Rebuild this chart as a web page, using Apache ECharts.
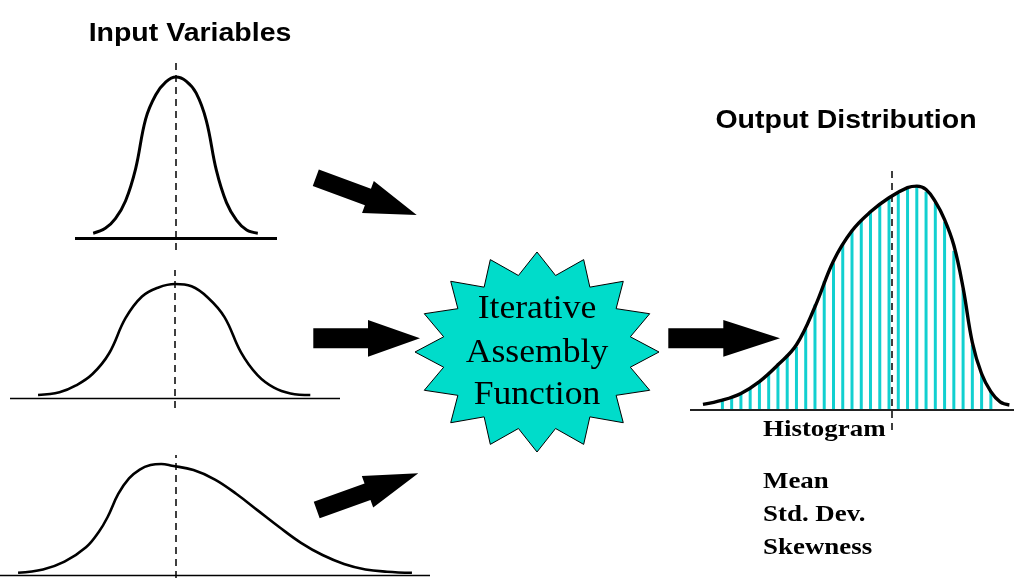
<!DOCTYPE html>
<html>
<head>
<meta charset="utf-8">
<script src="https://cdn.jsdelivr.net/npm/echarts/dist/echarts.min.js"></script>
<style>html,body{margin:0;padding:0;background:#fff}#c{width:1018px;height:578px}</style>
</head>
<body>
<div id="c"></div>
<script>
// ---- data ----
// Input variable 1 (narrow, symmetric)
const in1X = [-4.1, -3.5, -3.0, -2.5, -2.0, -1.5, -1.0, -0.5, 0, 0.5, 1.0, 1.5, 2.0, 2.5, 3.0, 3.5, 4.05];
const in1Y = [0.03, 0.06, 0.12, 0.23, 0.43, 0.74, 0.89, 0.97, 1.0, 0.975, 0.9, 0.73, 0.42, 0.22, 0.11, 0.05, 0.03];
const in1Mean = 0;
// Input variable 2 (wider, symmetric)
const in2X = [-4.15, -3.5, -3.0, -2.5, -2.0, -1.5, -1.0, -0.5, 0, 0.5, 1.0, 1.5, 2.0, 2.5, 3.0, 3.5, 4.1];
const in2Y = [0.026, 0.05, 0.11, 0.21, 0.39, 0.7, 0.89, 0.97, 1.0, 0.98, 0.88, 0.71, 0.4, 0.2, 0.09, 0.04, 0.026];
const in2Mean = 0;
// Input variable 3 (right skewed)
const in3X = [0.42, 1.0, 1.5, 2.0, 2.3, 2.5, 2.75, 3.0, 3.25, 3.5, 3.75, 4.0, 4.5, 5.0, 5.5, 6.0, 6.5, 7.0, 7.5, 8.0, 8.5, 9.0, 9.58];
const in3Y = [0.02, 0.05, 0.12, 0.25, 0.39, 0.52, 0.73, 0.87, 0.95, 0.99, 1.0, 0.985, 0.945, 0.86, 0.73, 0.58, 0.43, 0.29, 0.18, 0.1, 0.05, 0.03, 0.02];
const in3Mean = 4.09;
// Output distribution curve (left skewed)
const outX = [-2.1, 0, 2, 4, 6, 8, 10, 12, 14, 16, 18, 20, 21, 22, 23, 24, 25, 26, 27, 28, 29, 30, 31];
const outY = [0.023, 0.042, 0.072, 0.125, 0.2, 0.29, 0.46, 0.665, 0.8, 0.885, 0.948, 0.993, 1.0, 0.985, 0.93, 0.85, 0.735, 0.545, 0.3, 0.16, 0.08, 0.034, 0.02];
const outMean = 18.3;
// Histogram bins of the output
const histBins = [0,1,2,3,4,5,6,7,8,9,10,11,12,13,14,15,16,17,18,19,20,21,22,23,24,25,26,27,28,29];
const histVals = [0.04,0.055,0.075,0.096,0.125,0.16,0.205,0.245,0.28,0.36,0.47,0.575,0.655,0.74,0.80,0.85,0.885,0.915,0.945,0.965,0.995,1.0,0.975,0.925,0.84,0.71,0.54,0.29,0.165,0.08];
// Texts
const titleInput = 'Input Variables';
const titleOutput = 'Output Distribution';
const starLines = ['Iterative', 'Assembly', 'Function'];
const statLabels = ['Histogram', 'Mean', 'Std. Dev.', 'Skewness'];

// ---- helpers ----
const zip = (a, b) => a.map((v, i) => [v, b[i]]);
const SERIF = "'Liberation Serif','Times New Roman',serif";
const SANS = "'Liberation Sans',Arial,sans-serif";

function arrow(x1, y1, x2, y2, sw, hw, hl) {
  const dx = x2 - x1, dy = y2 - y1, L = Math.hypot(dx, dy);
  const ux = dx / L, uy = dy / L, px = -uy, py = ux;
  const bx = x2 - ux * hl, by = y2 - uy * hl;
  const p = (x, y, s) => [x + px * s, y + py * s];
  return {
    type: 'polygon', silent: true,
    shape: { points: [p(x1, y1, sw / 2), p(bx, by, sw / 2), p(bx, by, hw / 2), [x2, y2], p(bx, by, -hw / 2), p(bx, by, -sw / 2), p(x1, y1, -sw / 2)] },
    style: { fill: '#000' }
  };
}
function star(cx, cy, rx, ry, n, inner) {
  const pts = [];
  for (let k = 0; k < 2 * n; k++) {
    const a = -Math.PI / 2 + k * Math.PI / n;
    const r = k % 2 === 0 ? 1 : inner;
    pts.push([cx + rx * r * Math.cos(a), cy + ry * r * Math.sin(a)]);
  }
  return { type: 'polygon', silent: true, shape: { points: pts }, style: { fill: '#00DCCA', stroke: '#000', lineWidth: 1 } };
}
function txt(x, y, s, font, size, weight, align, sx) {
  return {
    type: 'text', silent: true, x: x, y: y, scaleX: sx, originX: 0, originY: 0,
    style: { x: 0, y: 0, text: s, fill: '#000', font: weight + ' ' + size + 'px ' + font, textAlign: align, textVerticalAlign: 'middle' }
  };
}

function axesFor(i, xmin, xmax, ymin, ymax) {
  const hidden = { show: false };
  return {
    x: { gridIndex: i, type: 'value', min: xmin, max: xmax, axisLine: hidden, axisTick: hidden, axisLabel: hidden, splitLine: hidden },
    y: { gridIndex: i, type: 'value', min: ymin, max: ymax, axisLine: hidden, axisTick: hidden, axisLabel: hidden, splitLine: hidden }
  };
}
const ax = [
  axesFor(0, -5, 5, -0.0745, 1.106),
  axesFor(1, -5, 5, -0.088, 1.123),
  axesFor(2, 0, 10, -0.027, 1.081),
  axesFor(3, -3.5, 31.5, -0.0917, 1.072)
];

function marks(mean, baseW, baseColor) {
  return {
    silent: true, symbol: ['none', 'none'], label: { show: false }, animation: false,
    emphasis: { disabled: true },
    data: [
      { yAxis: 0, lineStyle: { type: 'solid', color: baseColor, width: baseW } },
      { xAxis: mean, lineStyle: { type: [7, 5], color: '#000', width: 1.5 } }
    ]
  };
}
function curve(i, data, w, mean, baseW, baseColor) {
  return {
    type: 'line', xAxisIndex: i, yAxisIndex: i, data: data, showSymbol: false, symbol: 'none',
    smooth: 0.4, z: 5,
    lineStyle: { color: '#000', width: w }, emphasis: { disabled: true },
    markLine: marks(mean, baseW, baseColor)
  };
}

const chart = echarts.init(document.getElementById('c'), null, { renderer: 'canvas' });
chart.setOption({
  animation: false,
  backgroundColor: '#fff',
  grid: [
    { left: 75, top: 60, width: 202, height: 190 },
    { left: 10, top: 270, width: 330, height: 138 },
    { left: 0, top: 455, width: 430, height: 123 },
    { left: 690, top: 170, width: 324, height: 260 }
  ],
  xAxis: ax.map(a => a.x),
  yAxis: ax.map(a => a.y),
  series: [
    curve(0, zip(in1X, in1Y), 3, in1Mean, 3.2, '#000'),
    curve(1, zip(in2X, in2Y), 2.6, in2Mean, 1.3, '#000'),
    curve(2, zip(in3X, in3Y), 2.6, in3Mean, 1.3, '#000'),
    {
      type: 'bar', xAxisIndex: 3, yAxisIndex: 3, data: zip(histBins, histVals), barWidth: 3, z: 2,
      itemStyle: { color: '#12D0D0' }, emphasis: { disabled: true }
    },
    curve(3, zip(outX, outY), 3.4, outMean, 1.8, '#222')
  ],
  graphic: [
    txt(190, 34, titleInput, SANS, 25, 'bold', 'center', 1.14),
    txt(846, 121, titleOutput, SANS, 25, 'bold', 'center', 1.14),
    star(537, 352, 122, 100, 16, 0.78),
    txt(537, 309, starLines[0], SERIF, 33, 'normal', 'center', 1.08),
    txt(537, 353, starLines[1], SERIF, 33, 'normal', 'center', 1.08),
    txt(537, 395, starLines[2], SERIF, 33, 'normal', 'center', 1.08),
    txt(763, 430, statLabels[0], SERIF, 23, 'bold', 'left', 1.17),
    txt(763, 482, statLabels[1], SERIF, 23, 'bold', 'left', 1.17),
    txt(763, 515, statLabels[2], SERIF, 23, 'bold', 'left', 1.17),
    txt(763, 548, statLabels[3], SERIF, 23, 'bold', 'left', 1.17),
    arrow(315.8, 177.7, 416.7, 215, 17.5, 34, 52),
    arrow(313.3, 338.3, 420, 338.3, 20, 36.7, 52),
    arrow(668.3, 338.3, 780, 338.3, 20, 36.7, 56.7),
    arrow(316.7, 510, 418.3, 473.3, 17.5, 33.5, 54)
  ]
});
</script>
</body>
</html>
